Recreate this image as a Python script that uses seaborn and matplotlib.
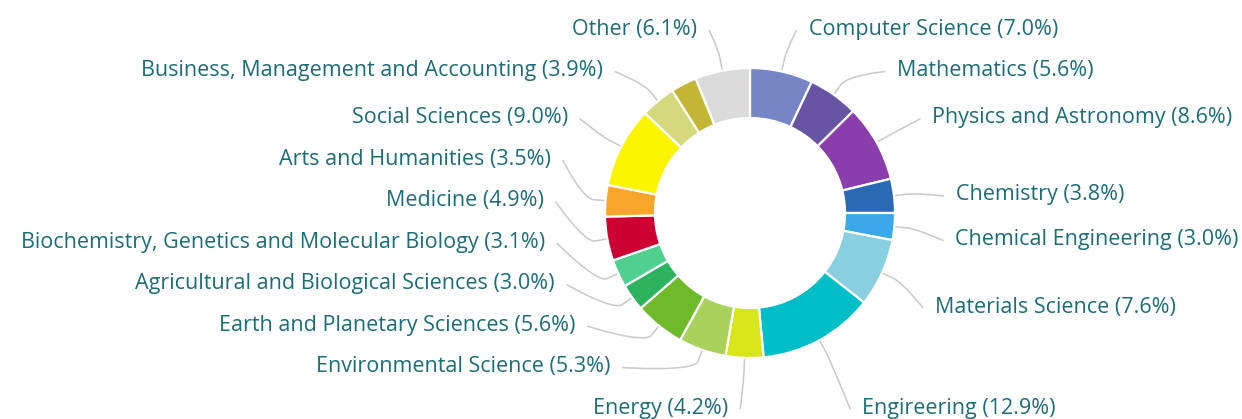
import numpy as np
import matplotlib
matplotlib.use("Agg")
import matplotlib.pyplot as plt
from matplotlib.path import Path
from matplotlib.patches import PathPatch
import seaborn as sns

# subject areas, clockwise from 12 o'clock (one small slice has no visible label)
subjects = ['Computer Science', 'Mathematics', 'Physics and Astronomy', 'Chemistry',
            'Chemical Engineering', 'Materials Science', 'Engireering', 'Energy',
            'Environmental Science', 'Earth and Planetary Sciences',
            'Agricultural and Biological Sciences',
            'Biochemistry, Genetics and Molecular Biology', 'Medicine',
            'Arts and Humanities', 'Social Sciences',
            'Business, Management and Accounting', '', 'Other']
shares = [7.0, 5.6, 8.6, 3.8, 3.0, 7.6, 12.9, 4.2, 5.3, 5.6, 3.0, 3.1, 4.9, 3.5,
          9.0, 3.9, 2.9, 6.1]
colors = ['#7685c5', '#6755a4', '#893eab', '#2a69b4', '#3aa9ea', '#88cfe1',
          '#00bec7', '#d6e61b', '#a9d15c', '#6fba2b', '#2bb35e', '#50d08f',
          '#cc0033', '#f8a52b', '#fbf600', '#d5d87b', '#c3b635', '#dbdbdb']

W, H = 1242, 419
cx, cy = 750, 213
r_out, r_in = 145, 95
r_nat = 210      # where labels would sit before de-overlapping
r_lab = 205      # circle used for label x
row = 41.5       # label spacing
top, bottom = 27, 406
text_color = '#1b6e78'

sns.set_style("white")
plt.rcParams['font.family'] = ['Open Sans', 'DejaVu Sans']

fig = plt.figure(figsize=(W / 100, H / 100), dpi=100)
ax = fig.add_axes([0, 0, 1, 1])
wedges, _ = ax.pie(shares, colors=colors, startangle=-90, counterclock=True,
                   center=(cx, cy), radius=r_out,
                   wedgeprops=dict(width=r_out - r_in, edgecolor='white', linewidth=1.6))
ax.set_xlim(0, W)
ax.set_ylim(H, 0)
ax.axis('off')

left, right = [], []
for w, name, val in zip(wedges, subjects, shares):
    if not name:
        continue
    phi = np.deg2rad((w.theta1 + w.theta2) / 2)
    d = dict(name=name, val=val, phi=phi, ny=cy + 5 + r_nat * np.sin(phi))
    (right if np.cos(phi) >= 0 else left).append(d)


def spread(items):
    items.sort(key=lambda d: d['ny'])
    ys = [min(max(d['ny'], top), bottom) for d in items]
    for i in range(1, len(ys)):
        ys[i] = max(ys[i], ys[i - 1] + row)
    ys[-1] = min(ys[-1], bottom)
    for i in range(len(ys) - 2, -1, -1):
        ys[i] = min(ys[i], ys[i + 1] - row)
    for d, y in zip(items, ys):
        d['y'] = y


for side, sgn in [(right, 1), (left, -1)]:
    spread(side)
    for d in side:
        y = d['y']
        phi = d['phi']
        # labels at the top/bottom edge snap to it and keep the x of their slice angle
        if y < top + 8 or y > bottom - 8:
            y = top if y < top + 8 else bottom
            dx = r_lab * abs(np.cos(phi)) + 12
        else:
            dx = np.sqrt(max(r_lab ** 2 - (y - cy) ** 2, 0))
        ax.text(cx + sgn * (dx + 2), y + 2, f"{d['name']} ({d['val']:.1f}%)",
                ha='left' if sgn > 0 else 'right', va='center',
                fontsize=15.5, color=text_color)
        # soft connector from slice edge to label
        touch = np.array([cx + r_out * np.cos(phi), cy + r_out * np.sin(phi)])
        brk = np.array([cx + (r_out + 12) * np.cos(phi), cy + (r_out + 12) * np.sin(phi)])
        end = np.array([cx + sgn * (dx - 10), y + 3])
        verts = [touch, brk, 2 * brk - touch, end, end]
        codes = [Path.MOVETO, Path.LINETO, Path.CURVE4, Path.CURVE4, Path.CURVE4]
        ax.add_patch(PathPatch(Path(verts, codes), fill=False, edgecolor='#c9c9c9',
                               linewidth=1.1, zorder=0))

fig.savefig('out.png', dpi=100, facecolor='white')
